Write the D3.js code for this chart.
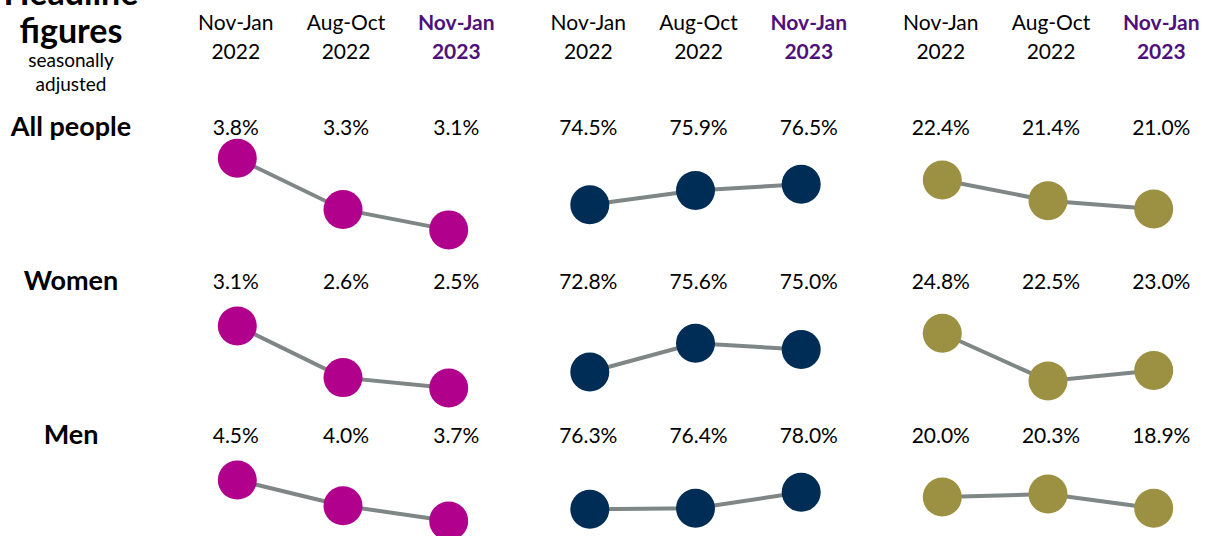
<!DOCTYPE html>
<html>
<head>
<meta charset="utf-8">
<script src="https://cdn.jsdelivr.net/npm/d3@7"></script>
<style>
    body { margin: 0; background: #fff; }
    svg { display: block; font-family: Lato, "Open Sans", sans-serif; }
</style>
</head>
<body>
<svg id="chart" width="1211" height="536"></svg>
<script>
// __________________________Data_______________________________
var periods = ["Nov-Jan 2022", "Aug-Oct 2022", "Nov-Jan 2023"];
var groups = ["All people", "Women", "Men"];

// values per group (All people, Women, Men), per period
var unemployment = [[3.8, 3.3, 3.1], [3.1, 2.6, 2.5], [4.5, 4.0, 3.7]];
var employment = [[74.5, 75.9, 76.5], [72.8, 75.6, 75.0], [76.3, 76.4, 78.0]];
var inactivity = [[22.4, 21.4, 21.0], [24.8, 22.5, 23.0], [20.0, 20.3, 18.9]];

// hidden y domains of each little chart
var unemploymentDomains = [[3.05, 3.93], [2.49, 3.36], [3.27, 5.03]];
var employmentDomains = [[71.53, 80.35], [71.14, 79.92], [72.93, 81.93]];
var inactivityDomains = [[19.74, 24.09], [22.11, 26.45], [15.50, 24.32]];

var panels = [
    { values: unemployment, domains: unemploymentDomains, color: "#b0008c" },
    { values: employment, domains: employmentDomains, color: "#002d56" },
    { values: inactivity, domains: inactivityDomains, color: "#9c9042" }
];

// __________________________Chart_______________________________
var svg = d3.select("#chart");
var purple = "#4e117c";
var rowY = d3.scaleLinear().domain([0, 1]).range([135, 289]);
var panelX = d3.scaleLinear().domain([0, 1]).range([237.3, 589.8]);

// title block (top line is cut by the frame, as in the original)
var title = svg.append("g").attr("text-anchor", "middle").attr("fill", "#000");
title.append("text").attr("x", 71).attr("y", 5)
    .style("font-size", "34px").style("font-weight", "bold").text("Headline");
title.append("text").attr("x", 71).attr("y", 43)
    .style("font-size", "34px").style("font-weight", "bold").text("figures");
title.append("text").attr("x", 71).attr("y", 67)
    .style("font-size", "19px").text("seasonally");
title.append("text").attr("x", 71).attr("y", 91)
    .style("font-size", "19px").text("adjusted");

// row labels
svg.selectAll(".rowLabel")
    .data(groups)
    .enter()
    .append("text")
    .attr("class", "rowLabel")
    .attr("x", 71)
    .attr("y", (d, i) => rowY(i) + 1)
    .attr("text-anchor", "middle")
    .style("font-size", "27px")
    .style("font-weight", "bold")
    .text((d) => d);

var line = d3.line();

panels.forEach((p, pi) => {
    var start = panelX(pi);
    // circles and labels sit on slightly different columns
    var xDot = d3.scalePoint().domain(periods).range([start, start + 211.4]);
    var xText = d3.scalePoint().domain(periods).range([start - 1.5, start + 219]);

    var g = svg.append("g").attr("class", "panel");

    // header
    var head = g.selectAll(".head")
        .data(periods)
        .enter()
        .append("text")
        .attr("class", "head")
        .attr("text-anchor", "middle")
        .attr("fill", (d, i) => i === 2 ? purple : "#000")
        .style("font-weight", (d, i) => i === 2 ? "bold" : "normal")
        .style("font-size", "21px");
    head.append("tspan")
        .attr("x", (d) => xText(d))
        .attr("y", 30)
        .text((d) => d.split(" ")[0]);
    head.append("tspan")
        .attr("x", (d) => xText(d))
        .attr("y", 59)
        .text((d) => d.split(" ")[1]);

    p.values.forEach((vals, ri) => {
        var top = rowY(ri);
        var y = d3.scaleLinear().domain(p.domains[ri]).range([top + 100, top + 10]);
        var pts = vals.map((v, i) => [xDot(periods[i]), y(v)]);

        g.append("path")
            .attr("d", line(pts))
            .attr("fill", "none")
            .attr("stroke", "#7f8686")
            .attr("stroke-width", 4);

        g.selectAll(".dot" + ri)
            .data(vals)
            .enter()
            .append("circle")
            .attr("class", "dot" + ri)
            .attr("cx", (d, i) => xDot(periods[i]))
            .attr("cy", (d) => y(d))
            .attr("r", 19.5)
            .style("fill", p.color);

        g.selectAll(".val" + ri)
            .data(vals)
            .enter()
            .append("text")
            .attr("class", "val" + ri)
            .attr("x", (d, i) => xText(periods[i]))
            .attr("y", top)
            .attr("text-anchor", "middle")
            .attr("fill", "#000")
            .style("font-size", "21px")
            .text((d) => d.toFixed(1) + "%");
    });
});
</script>
</body>
</html>
